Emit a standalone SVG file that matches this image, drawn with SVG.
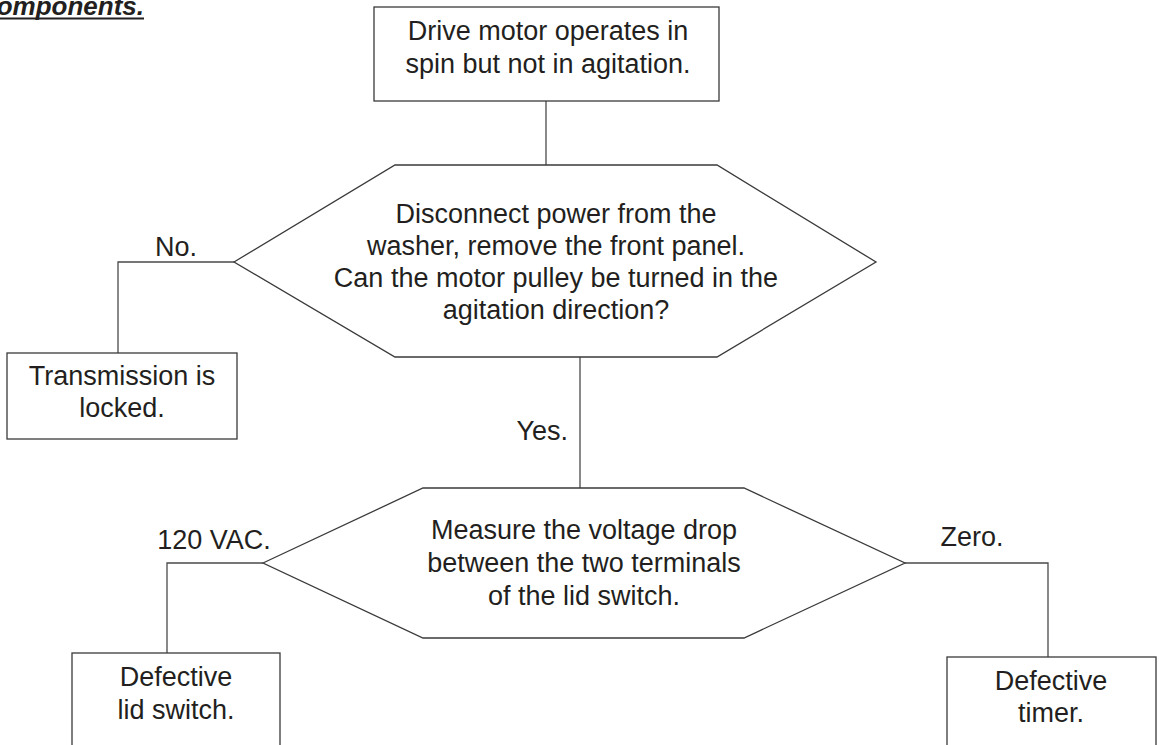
<svg xmlns="http://www.w3.org/2000/svg" width="1159" height="745" viewBox="0 0 1159 745">
<style>
.shape{fill:#fff;stroke:#3a3a3a;stroke-width:1.3}
.conn{fill:none;stroke:#4a4a4a;stroke-width:1.3}
text{font-family:"Liberation Sans",Arial,sans-serif;font-size:27px;fill:#231f20}
.c{text-anchor:middle}
.title{font-weight:bold;font-style:italic;text-anchor:end;font-size:26px}
</style>
<rect width="1159" height="745" fill="#fff"/>
<g id="title">
<text class="title" x="144" y="15">Components.</text>
<line x1="0" y1="18.5" x2="144" y2="18.5" stroke="#231f20" stroke-width="2"/>
</g>
<g id="connectors">
<line class="conn" x1="546" y1="101" x2="546" y2="165"/>
<polyline class="conn" points="234,262 118,262 118,353"/>
<line class="conn" x1="580" y1="357" x2="580" y2="488"/>
<polyline class="conn" points="263,563 167,563 167,653"/>
<polyline class="conn" points="905,563 1048,563 1048,657"/>
<text class="c" x="176" y="256">No.</text>
<text x="568" y="440" text-anchor="end">Yes.</text>
<text class="c" x="214" y="549">120 VAC.</text>
<text class="c" x="972" y="546">Zero.</text>
</g>
<g id="start">
<rect class="shape" x="374" y="7" width="345" height="94"/>
<text class="c" x="548" y="40">Drive motor operates in</text>
<text class="c" x="548" y="73">spin but not in agitation.</text>
</g>
<g id="decision1">
<polygon class="shape" points="234,262 395,165 717,165 876,262 717,357 395,357"/>
<text class="c" x="556" y="223">Disconnect power from the</text>
<text class="c" x="556" y="255">washer, remove the front panel.</text>
<text class="c" x="556" y="287">Can the motor pulley be turned in the</text>
<text class="c" x="556" y="319">agitation direction?</text>
</g>
<g id="transmission">
<rect class="shape" x="7" y="353" width="230" height="86"/>
<text class="c" x="122" y="385">Transmission is</text>
<text class="c" x="122" y="417">locked.</text>
</g>
<g id="decision2">
<polygon class="shape" points="263,563 423,488 744,488 905,563 744,638 423,638"/>
<text class="c" x="584" y="539">Measure the voltage drop</text>
<text class="c" x="584" y="572">between the two terminals</text>
<text class="c" x="584" y="605">of the lid switch.</text>
</g>
<g id="lidswitch">
<rect class="shape" x="72" y="653" width="208" height="110"/>
<text class="c" x="176" y="686">Defective</text>
<text class="c" x="176" y="719">lid switch.</text>
</g>
<g id="timer">
<rect class="shape" x="947" y="657" width="209" height="110"/>
<text class="c" x="1051" y="690">Defective</text>
<text class="c" x="1051" y="722">timer.</text>
</g>
</svg>
